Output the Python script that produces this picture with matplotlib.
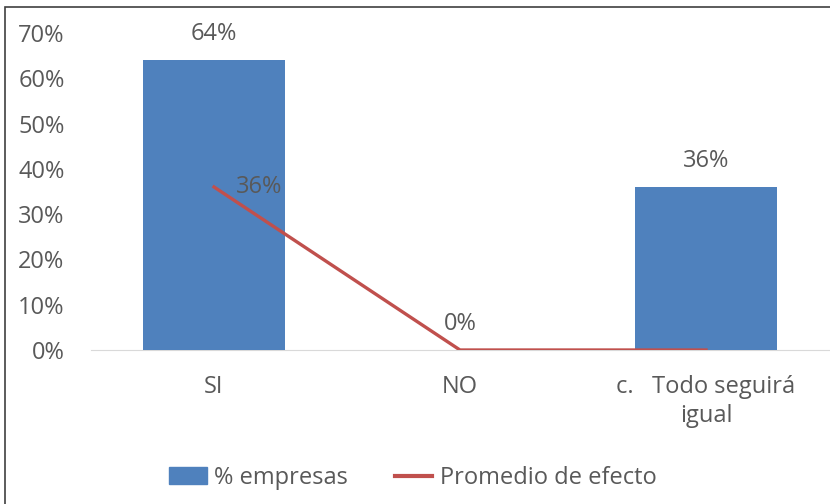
import matplotlib.pyplot as plt
from matplotlib.patches import Rectangle
from matplotlib.lines import Line2D

categories = ['SI', 'NO', 'c.   Todo seguirá\nigual']
empresas = [0.64, 0.0, 0.36]
promedio = [0.36, 0.0, 0.0]
yticks = [0, 0.1, 0.2, 0.3, 0.4, 0.5, 0.6, 0.7]

plt.rcParams['font.family'] = ['Open Sans', 'DejaVu Sans']
gris = '#595959'
azul = '#4F81BD'
rojo = '#C0504D'
fs = 17

fig = plt.figure(figsize=(8.3, 5.04), dpi=100)
ax = fig.add_axes([91 / 830, 154 / 504, 738 / 830, 317 / 504])

x = list(range(len(categories)))
ax.bar(x, empresas, width=0.58, color=azul, label='% empresas', zorder=2)
ax.plot(x, promedio, color=rojo, linewidth=2.4, label='Promedio de efecto', zorder=3)

# etiquetas de datos
for xi, v in zip(x, empresas):
    ax.annotate(f'{v:.0%}', (xi, v), xytext=(0, 10), textcoords='offset points',
                ha='center', va='bottom', fontsize=fs, color=gris)
ax.annotate(f'{promedio[0]:.0%}', (x[0], promedio[0]), xytext=(16, 0),
            textcoords='offset points', ha='left', va='center', fontsize=fs, color=gris)

ax.set_xlim(-0.5, 2.5)
ax.set_ylim(0, 0.7)
ax.set_yticks(yticks)
ax.set_yticklabels([f'{t:.0%}' for t in yticks])
ax.set_xticks(x)
ax.set_xticklabels(categories, linespacing=1.25)
ax.tick_params(axis='y', length=0, pad=19, labelsize=fs, labelcolor=gris)
ax.tick_params(axis='x', length=0, pad=18, labelsize=fs, labelcolor=gris)
for s in ['top', 'right', 'left']:
    ax.spines[s].set_visible(False)
ax.spines['bottom'].set_color('#D9D9D9')
ax.spines['bottom'].set_zorder(1)

handles = [Rectangle((0, 0), 1, 1, color=azul),
           Line2D([0], [0], color=rojo, linewidth=3)]
fig.legend(handles, ['% empresas', 'Promedio de efecto'], loc='center',
           bbox_to_anchor=(0.497, 0.052), ncol=2, frameon=False, fontsize=fs,
           labelcolor=gris, handlelength=1.6, handletextpad=0.3, columnspacing=2.0)

# marco del gráfico
fig.patches.append(Rectangle((5 / 830, -0.1), 1.2, 1 - 7 / 504 + 0.1,
                             transform=fig.transFigure, fill=False,
                             edgecolor='#404040', linewidth=1.2))

fig.savefig('out.png', dpi=100)
